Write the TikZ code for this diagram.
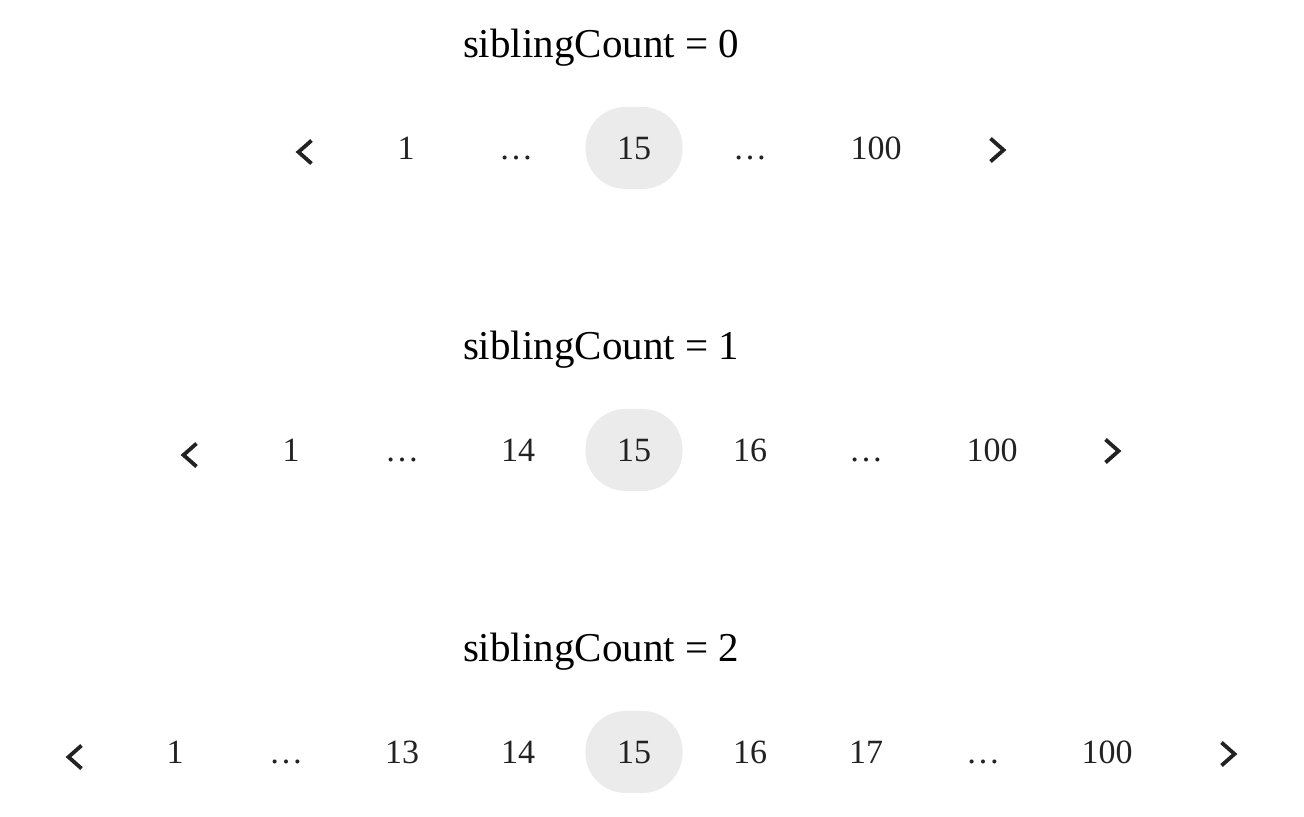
\documentclass[tikz,border=0pt]{standalone}
\usepackage{fontspec}
\setmainfont{Liberation Serif}
\usepackage{tikz}
\usetikzlibrary{calc}

\definecolor{pagegray}{HTML}{EBEBEB}
\definecolor{ink}{HTML}{222222}

\tikzset{
  title/.style = {anchor=base, font=\fontsize{20.5}{24}\selectfont},
  page/.style = {anchor=base, text=ink, font=\fontsize{17}{20}\selectfont},
  current/.style = {page, fill=pagegray, minimum width=48.5pt,
                    minimum height=41pt, rounded corners=20pt},
  chev/.style = {draw=ink, line width=1.9pt}
}

\begin{document}
\begin{tikzpicture}[x=0.5pt, y=-0.5pt]

\useasboundingbox (0,0) rectangle (1304,816);

% siblingCount = 0
\node[title] (T0) at (601,57) {siblingCount = 0};
\foreach \x/\t [count=\i] in {406/1, 516/…, 750/…, 876/100}
  \node[page] (a\i) at (\x,159) {\t};
\node[current] (a15) at (634,159) {15};
\coordinate (aL) at (305,152);
\coordinate (aR) at (997,150);
\draw[chev] (aL) ++(6.5,-11.5) -- ++(-13,11.5) -- ++(13,11.5);
\draw[chev] (aR) ++(-6.5,-11.5) -- ++(13,11.5) -- ++(-13,11.5);

% siblingCount = 1
\node[title] (T1) at (601,359) {siblingCount = 1};
\foreach \x/\t [count=\i] in {291/1, 402/…, 518/14, 750/16, 866/…, 992/100}
  \node[page] (b\i) at (\x,461) {\t};
\node[current] (b15) at (634,461) {15};
\coordinate (bL) at (190,455);
\coordinate (bR) at (1112,451);
\draw[chev] (bL) ++(6.5,-11.5) -- ++(-13,11.5) -- ++(13,11.5);
\draw[chev] (bR) ++(-6.5,-11.5) -- ++(13,11.5) -- ++(-13,11.5);

% siblingCount = 2
\node[title] (T2) at (601,661) {siblingCount = 2};
\foreach \x/\t [count=\i] in {175/1, 286/…, 402/13, 518/14, 750/16,
                              866/17, 983/…, 1107/100}
  \node[page] (c\i) at (\x,763) {\t};
\node[current] (c15) at (634,763) {15};
\coordinate (cL) at (75,757);
\coordinate (cR) at (1228,754);
\draw[chev] (cL) ++(6.5,-11.5) -- ++(-13,11.5) -- ++(13,11.5);
\draw[chev] (cR) ++(-6.5,-11.5) -- ++(13,11.5) -- ++(-13,11.5);

\end{tikzpicture}
\end{document}
